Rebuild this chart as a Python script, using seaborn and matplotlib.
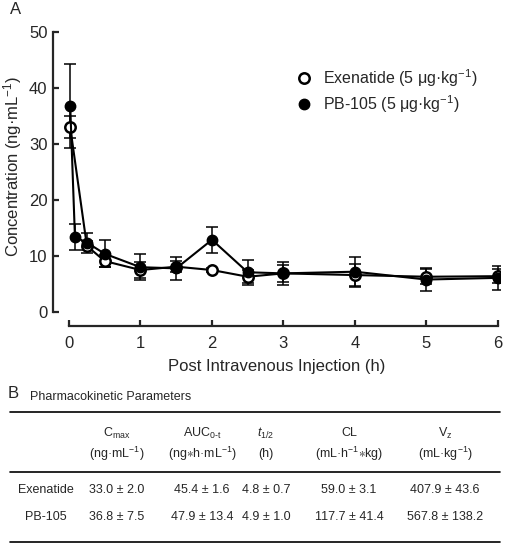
import numpy as np
import pandas as pd
import matplotlib
matplotlib.use("Agg")
import matplotlib.pyplot as plt
import seaborn as sns
from matplotlib.lines import Line2D

# ======================================================
# Data
# ======================================================

exen_time = [0.017, 0.25, 0.5, 1, 1.5, 2, 2.5, 3, 4, 5, 6]
exen_mean = [33.0, 11.8, 9.1, 7.5, 8.1, 7.5, 6.3, 6.9, 6.6, 6.3, 6.4]
exen_sd = [2.0, 0.8, 1.0, 1.5, 1.0, 0.4, 1.2, 1.5, 2.0, 1.3, 1.2]

pb_time = [0.017, 0.083, 0.25, 0.5, 1, 1.5, 2, 2.5, 3, 4, 5, 6]
pb_mean = [36.8, 13.4, 12.4, 10.4, 8.0, 7.8, 12.9, 7.1, 6.9, 7.2, 5.8, 6.1]
pb_sd = [7.5, 2.4, 1.8, 2.4, 2.3, 2.1, 2.3, 2.2, 2.0, 2.7, 2.0, 2.1]

series_labels = [r"Exenatide (5 μg·kg$^{-1}$)", r"PB-105 (5 μg·kg$^{-1}$)"]

x_ticks = [0, 1, 2, 3, 4, 5, 6]
y_ticks = [0, 10, 20, 30, 40, 50]

# table B
table_cols = [r"C$_{\mathrm{max}}$", r"AUC$_{\mathrm{0\text{-}t}}$", r"$\mathit{t}_{1/2}$", "CL", r"V$_{\mathrm{z}}$"]
table_units = [r"(ng·mL$^{-1}$)", r"(ng${\ast}$h·mL$^{-1}$)", "(h)", r"(mL·h$^{-1}{\ast}$kg)", r"(mL·kg$^{-1}$)"]
table_rows = ["Exenatide", "PB-105"]
table_vals = [
    ["33.0 ± 2.0", "45.4 ± 1.6", "4.8 ± 0.7", "59.0 ± 3.1", "407.9 ± 43.6"],
    ["36.8 ± 7.5", "47.9 ± 13.4", "4.9 ± 1.0", "117.7 ± 41.4", "567.8 ± 138.2"],
]

# ======================================================
# Style
# ======================================================

sns.set_style("ticks")
plt.rcParams["font.family"] = ["Liberation Sans", "DejaVu Sans"]
plt.rcParams["mathtext.fontset"] = "custom"
plt.rcParams["mathtext.rm"] = "Liberation Sans"
plt.rcParams["mathtext.it"] = "Liberation Sans:italic"
plt.rcParams["mathtext.bf"] = "Liberation Sans:bold"
plt.rcParams["mathtext.fallback"] = "stix"

W, H = 506, 544
fig = plt.figure(figsize=(W / 100, H / 100), dpi=100)

def px(x, y):
    return x / W, 1 - y / H

ax = fig.add_axes([53 / W, 1 - 326 / H, 447 / W, 295 / H])

df_exen = pd.DataFrame({"time": exen_time, "conc": exen_mean})
df_pb = pd.DataFrame({"time": pb_time, "conc": pb_mean})

# error bars
ax.errorbar(exen_time, exen_mean, yerr=exen_sd, fmt="none", ecolor="black",
            elinewidth=1.1, capsize=4, capthick=1.1, zorder=2)
ax.errorbar(pb_time, pb_mean, yerr=pb_sd, fmt="none", ecolor="black",
            elinewidth=1.1, capsize=4, capthick=1.1, zorder=2)

sns.lineplot(data=df_exen, x="time", y="conc", ax=ax, color="black",
             linewidth=1.5, marker="o", markersize=7.5, markerfacecolor="white",
             markeredgecolor="black", markeredgewidth=1.8, zorder=3)
sns.lineplot(data=df_pb, x="time", y="conc", ax=ax, color="black",
             linewidth=1.5, marker="o", markersize=7.5, markerfacecolor="black",
             markeredgecolor="black", markeredgewidth=1.0, zorder=4)

ax.set_xlim(-0.224, 6.03)
ax.set_ylim(-2.5, 50.2)
ax.set_xticks(x_ticks)
ax.set_yticks(y_ticks)
ax.spines["left"].set_bounds(0, 50)
ax.spines["bottom"].set_bounds(0, 6)
sns.despine(ax=ax)
for s in ["left", "bottom"]:
    ax.spines[s].set_linewidth(1.6)
ax.tick_params(direction="in", length=4, width=1.6, labelsize=12)
ax.tick_params(axis="y", pad=4)
ax.tick_params(axis="x", pad=7)

ax.set_xlabel("Post Intravenous Injection (h)", fontsize=12, labelpad=6)
ax.set_ylabel(r"Concentration (ng·mL$^{-1}$)", fontsize=12)
ax.yaxis.set_label_coords(-0.064, 0.54)

handles = [
    Line2D([], [], linestyle="none", marker="o", markersize=7.5,
           markerfacecolor="white", markeredgecolor="black", markeredgewidth=1.8),
    Line2D([], [], linestyle="none", marker="o", markersize=7.5,
           markerfacecolor="black", markeredgecolor="black"),
]
ax.legend(handles, series_labels, loc="upper left", bbox_to_anchor=(0.525, 0.9),
          frameon=False, fontsize=11.5, handletextpad=0.6, labelspacing=0.3,
          borderaxespad=0, handlelength=1.2)

fig.text(*px(10, 9), "A", fontsize=12, ha="left", va="center")

# ======================================================
# Table B
# ======================================================

fig.text(*px(8, 394), "B", fontsize=12, ha="left", va="center")
fig.text(*px(30, 397), "Pharmacokinetic Parameters", fontsize=9, ha="left", va="center")

for yy in [412, 472, 542]:
    fig.add_artist(Line2D([10 / W, 500 / W], [1 - yy / H] * 2, color="black", linewidth=1.2))

col_x = [117, 202, 266, 349, 445]
for cx, name, unit in zip(col_x, table_cols, table_units):
    fig.text(*px(cx, 433), name, fontsize=9, ha="center", va="center")
    fig.text(*px(cx, 454), unit, fontsize=9, ha="center", va="center")

row_y = [490, 517]
for ry, rname, vals in zip(row_y, table_rows, table_vals):
    fig.text(*px(46, ry), rname, fontsize=9, ha="center", va="center")
    for cx, v in zip(col_x, vals):
        fig.text(*px(cx, ry), v, fontsize=9, ha="center", va="center")

plt.savefig("out.png", dpi=100)
